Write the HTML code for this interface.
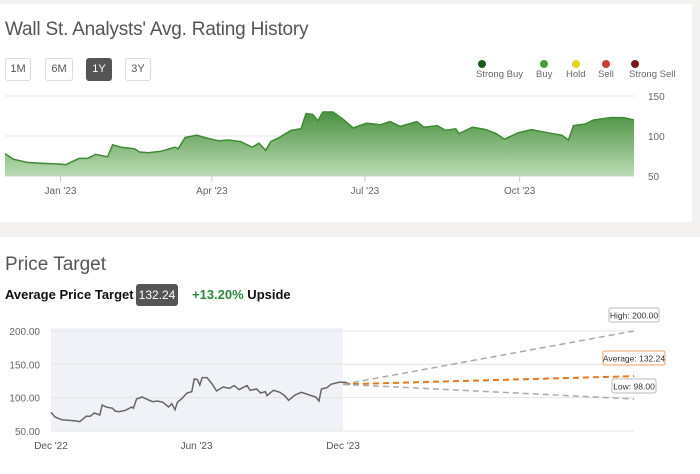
<!DOCTYPE html>
<html><head><meta charset="utf-8"><style>
body{margin:0;width:700px;height:474px;background:#f4f2f0;font-family:"Liberation Sans",sans-serif;overflow:hidden;position:relative}
.card{position:absolute;left:0;background:#fff}
.btn{position:absolute;top:58px;height:21px;border:1px solid #ddd;border-radius:3px;font-size:11px;color:#555;text-align:center;line-height:21px;background:#fff}
.btn.act{background:#555;color:#fff;border-color:#555}
.leg{position:absolute;top:60px;font-size:9.5px;color:#666;text-align:center}
.dot{width:8px;height:8px;border-radius:50%;margin:0 auto 1px}
</style></head><body>
<div class="card" style="top:4px;width:692px;height:218px"></div>
<div class="card" style="top:237px;width:700px;height:237px"></div>
<div style="position:absolute;left:5px;top:19px;font-size:19px;color:#555;letter-spacing:-0.2px">Wall St. Analysts' Avg. Rating History</div>
<div class="btn" style="left:5px;width:24px">1M</div>
<div class="btn" style="left:45px;width:26px">6M</div>
<div class="btn act" style="left:86px;width:24px">1Y</div>
<div class="btn" style="left:125px;width:24px">3Y</div>
<div class="leg" style="left:476px"><div class="dot" style="background:#1e5a1e;margin-left:2px"></div>Strong Buy</div>
<div class="leg" style="left:536px"><div class="dot" style="background:#4a9a3f"></div>Buy</div>
<div class="leg" style="left:566px"><div class="dot" style="background:#e8d21a"></div>Hold</div>
<div class="leg" style="left:598px"><div class="dot" style="background:#d13a3a"></div>Sell</div>
<div class="leg" style="left:629px"><div class="dot" style="background:#7a1a1a;margin-left:2px"></div>Strong Sell</div>
<div style="position:absolute;left:5px;top:254px;font-size:19px;color:#555">Price Target</div>
<div style="position:absolute;left:5px;top:287px;font-size:13px;font-weight:bold;color:#111">Average Price Target</div>
<div style="position:absolute;left:136px;top:284px;width:42px;height:22px;background:#555;color:#fff;border-radius:3px;font-size:12px;line-height:22px;text-align:center">132.24</div>
<div style="position:absolute;left:192px;top:287px;font-size:13px;font-weight:bold;color:#111"><span style="color:#2a8a3a">+13.20%</span> Upside</div>
<svg id="s" width="700" height="474" style="position:absolute;left:0;top:0"></svg>
<script>
const days=[0,5,13,21,32,36,44,49,54,61,64,69,77,80,85,93,101,103,107,114,119,127,133,140,147,151,155,158,163,170,176,179,183,186,189,195,201,207,215,223,229,235,245,249,257,262,268,270,278,286,292,297,305,313,323,331,335,338,345,350,360,368,374];
const prices=[78,71,67,66,65,64,72,72,77,74,89,86,84,80,79,81,86,84,98,101,98,94,95,93,86,91,82,93,98,107,109,128,127,119,130,130,121,110,116,114,118,112,118,111,113,107,109,103,111,108,103,96,104,108,104,101,95,113,115,120,123,123,120];
const ratingTicks=[50,100,150];
const ratingMonths=["Jan '23","Apr '23","Jul '23","Oct '23"];
const ratingMonthDays=[33,123,214,306];
const priceTicks=[50,100,150,200];
const priceMonths=["Dec '22","Jun '23","Dec '23"];
const priceMonthDays=[0,182,365];
const targetNames=["High","Average","Low"];
const targets=[200,132.24,98];
const NS="http://www.w3.org/2000/svg";
const s=document.getElementById('s');
function el(t,a,p){const e=document.createElementNS(NS,t);for(const k in a)e.setAttribute(k,a[k]);(p||s).appendChild(e);return e;}
const tx=d=>5+d*629/374, ty=v=>176-(v-50)*0.8;
const defs=el('defs',{});
const g=el('linearGradient',{id:'gr',x1:0,y1:0,x2:0,y2:1},defs);
el('stop',{offset:'0','stop-color':'#4b9140'},g);el('stop',{offset:'1','stop-color':'#bcdcb5'},g);
ratingTicks.forEach(v=>{const l=el('line',{x1:5,x2:634,y1:ty(v),y2:ty(v),stroke:'#e6e6e6'});

const t=el('text',{x:648,y:ty(v)+4,'font-size':10,fill:'#666'});t.textContent=v;
});
let pts=days.map((d,i)=>tx(d).toFixed(1)+','+ty(prices[i]).toFixed(1));
const area=el('path',{d:'M'+tx(days[0])+','+ty(50)+' L'+pts.join(' L')+' L'+tx(days[days.length-1])+','+ty(50)+'Z',fill:'url(#gr)'});

const ln=el('polyline',{points:pts.join(' '),fill:'none',stroke:'#3f8a35','stroke-width':1.5});

el('line',{x1:5,x2:634,y1:176,y2:176,stroke:'#ccc'});
ratingMonths.forEach((m,i)=>{const x=tx(ratingMonthDays[i]);el('line',{x1:x,x2:x,y1:176,y2:182,stroke:'#ccc'});
const t=el('text',{x:x,y:194,'font-size':10,fill:'#666','text-anchor':'middle'});t.textContent=m;
});
const px=d=>51+d*292/365, py=v=>431-(v-50)*0.667;
const bg=el('rect',{x:51,y:328,width:292,height:103,fill:'#f1f2f7'});

priceTicks.forEach(v=>{const l=el('line',{x1:51,x2:634,y1:py(v),y2:py(v),stroke:'#e4e4e4'});

const t=el('text',{x:40,y:py(v)+4,'font-size':10,fill:'#666','text-anchor':'end'});t.textContent=v.toFixed(2);
});
const pl=el('polyline',{points:days.map((d,i)=>px(d).toFixed(1)+','+py(prices[i]).toFixed(1)).join(' '),fill:'none',stroke:'#666','stroke-width':1.5});

priceMonths.forEach((m,i)=>{const x=px(priceMonthDays[i]);
const t=el('text',{x:x,y:449,'font-size':10,fill:'#555','text-anchor':'middle'});t.textContent=m;
});
const last=prices[prices.length-1];
const boxY=[308,351,379],boxW=[50,62,44];
targets.forEach((v,i)=>{const avg=i===1,col=avg?'#e8781e':'#aaa';
const l=el('line',{x1:343,y1:py(last),x2:634,y2:py(v),stroke:col,'stroke-width':avg?2:1.5,'stroke-dasharray':'6,4'});

const bx=634-boxW[i]/2;
const r=el('rect',{x:bx,y:boxY[i],width:boxW[i],height:14,rx:2,fill:'#fff',stroke:avg?'#e8a060':'#bbb'});

const t=el('text',{x:634,y:boxY[i]+10.5,'font-size':8.5,fill:'#333','text-anchor':'middle'});t.textContent=targetNames[i]+': '+v.toFixed(2);
});
</script>
</body></html>
